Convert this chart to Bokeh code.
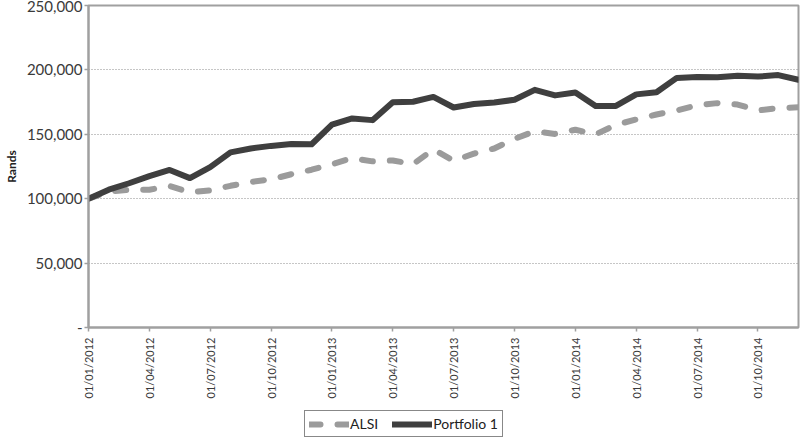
import math
from bokeh.plotting import figure
from bokeh.layouts import column
from bokeh.models import Range1d, FixedTicker, Legend, LegendItem
from bokeh.embed import file_html
from bokeh.resources import INLINE

months = list(range(36))
tick_positions = [0, 3, 6, 9, 12, 15, 18, 21, 24, 27, 30, 33]
tick_labels = ["01/01/2012", "01/04/2012", "01/07/2012", "01/10/2012",
               "01/01/2013", "01/04/2013", "01/07/2013", "01/10/2013",
               "01/01/2014", "01/04/2014", "01/07/2014", "01/10/2014"]

portfolio = [100000, 107000, 112000, 117500, 122300, 116000, 124500, 136000, 139000,
             141000, 142500, 142300, 157500, 162300, 161000, 174800, 175300, 179000,
             170800, 173500, 174700, 176800, 184500, 180200, 182500, 172000, 172000,
             181000, 182600, 193800, 194500, 194300, 195500, 194800, 196000, 192300]
alsi = [100000, 105500, 107000, 107000, 109800, 105000, 106500, 110000, 113000,
        115000, 119000, 122500, 126800, 131500, 129000, 129700, 126800, 138300,
        129500, 135000, 139000, 146500, 152400, 150300, 153500, 149900, 157400,
        161500, 165400, 168500, 172600, 174200, 173100, 168500, 170300, 171000]

y_ticks = [0, 50000, 100000, 150000, 200000, 250000]
y_labels = ["-", "50,000", "100,000", "150,000", "200,000", "250,000"]

FONT = "Lato"
TXT = "#3a3a3a"
AXC = "#a0a0a0"
ALSI_COLOR = "#9b9b9b"
PORT_COLOR = "#3f3f3f"

p = figure(width=800, height=410, output_backend="svg", toolbar_location=None,
           x_range=Range1d(0, 35), y_range=Range1d(0, 250000),
           min_border_left=88, min_border_right=2, min_border_top=5, min_border_bottom=83)
p.background_fill_color = "white"
p.border_fill_color = "white"
p.outline_line_color = AXC
p.outline_line_width = 2

p.xgrid.grid_line_color = None
p.ygrid.grid_line_color = "#8c8c8c"
p.ygrid.grid_line_dash = "1 2"
p.ygrid.grid_line_width = 1

xa = p.xaxis[0]
xa.ticker = FixedTicker(ticks=tick_positions)
xa.major_label_overrides = {t: l for t, l in zip(tick_positions, tick_labels)}
xa.major_label_orientation = math.pi / 2
xa.major_label_text_font = FONT
xa.major_label_text_font_size = "11px"
xa.major_label_text_color = TXT
xa.major_tick_out = 4
xa.major_tick_in = 0
xa.minor_tick_line_color = None
xa.axis_line_color = AXC
xa.axis_line_width = 2
xa.major_tick_line_color = AXC
xa.major_tick_line_width = 1.5
xa.major_label_standoff = 6

ya = p.yaxis[0]
ya.ticker = FixedTicker(ticks=y_ticks)
ya.major_label_overrides = {t: l for t, l in zip(y_ticks, y_labels)}
ya.major_label_text_font = FONT
ya.major_label_text_font_size = "15px"
ya.major_label_text_color = TXT
ya.major_tick_out = 4
ya.major_tick_in = 0
ya.minor_tick_line_color = None
ya.axis_line_color = AXC
ya.axis_line_width = 2
ya.major_tick_line_color = AXC
ya.major_tick_line_width = 1.5
ya.major_label_standoff = 2
ya.axis_label = "Rands"
ya.axis_label_text_font = FONT
ya.axis_label_text_font_size = "12px"
ya.axis_label_text_font_style = "bold"
ya.axis_label_text_color = "#222222"
ya.axis_label_standoff = 5

p.line(months, alsi, line_color=ALSI_COLOR, line_width=6, line_dash="11 17",
       line_cap="round", line_join="round")
p.line(months, portfolio, line_color=PORT_COLOR, line_width=6,
       line_cap="round", line_join="round")

# legend strip below the chart (its series lie outside its visible range)
lf = figure(width=800, height=28, output_backend="svg", toolbar_location=None,
            x_axis_type=None, y_axis_type=None, x_range=Range1d(0, 1), y_range=Range1d(0, 1),
            min_border_left=0, min_border_right=0, min_border_top=0, min_border_bottom=0)
lf.outline_line_color = None
lf.xgrid.grid_line_color = None
lf.ygrid.grid_line_color = None
la = lf.line(months, alsi, line_color=ALSI_COLOR, line_width=6, line_dash="11 17",
             line_cap="round", line_join="round")
lp = lf.line(months, portfolio, line_color=PORT_COLOR, line_width=6,
             line_cap="round", line_join="round")

legend = Legend(items=[LegendItem(label="ALSI", renderers=[la]),
                       LegendItem(label="Portfolio 1", renderers=[lp])],
                orientation="horizontal", location=(216, 1))
legend.border_line_color = "#111111"
legend.border_line_width = 1.5
legend.background_fill_color = "white"
legend.label_text_font = FONT
legend.label_text_font_size = "14px"
legend.label_text_color = "#222222"
legend.glyph_width = 40
legend.glyph_height = 12
legend.label_standoff = 1
legend.spacing = 14
legend.padding = 4
legend.margin = 0
legend.label_height = 12
lf.add_layout(legend, "center")

layout = column(p, lf, spacing=0)
open("out.html", "w").write(file_html(layout, INLINE))
